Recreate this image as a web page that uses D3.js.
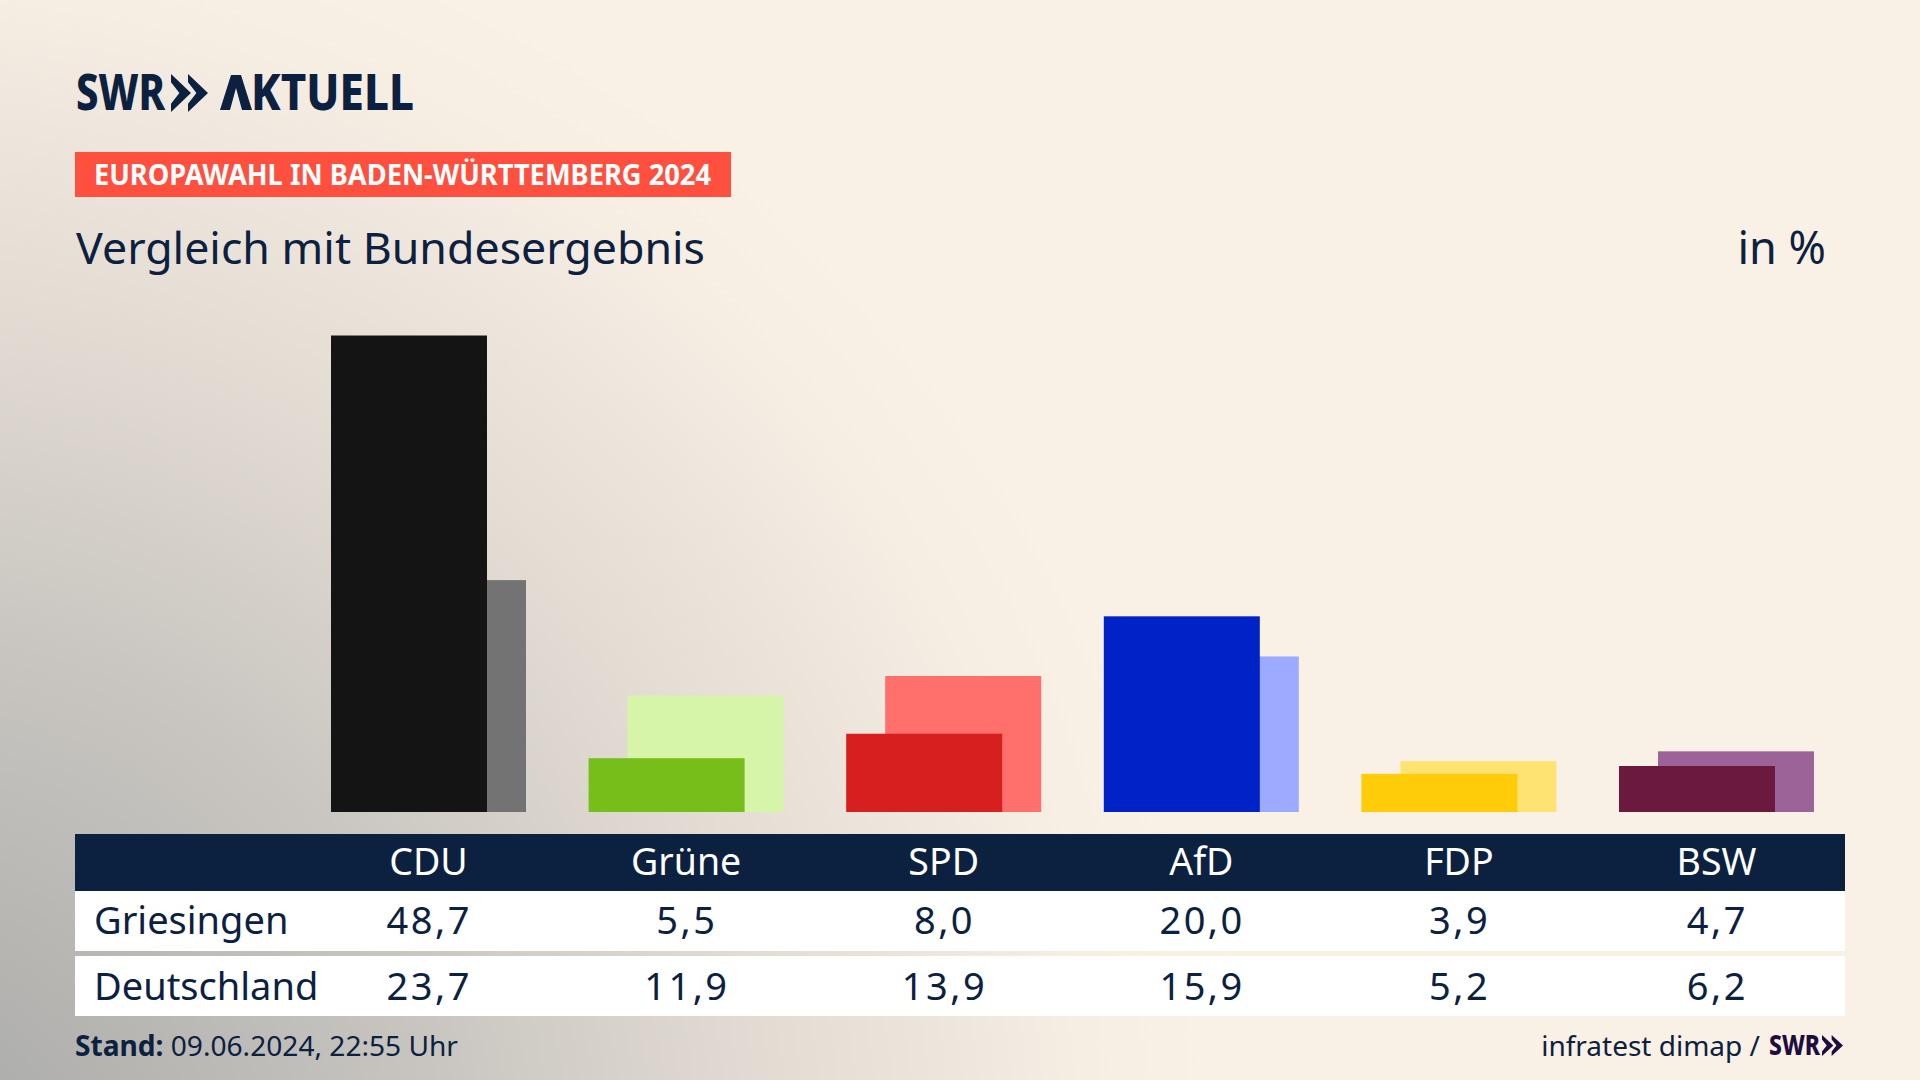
<!DOCTYPE html>
<html>
<head>
<meta charset="utf-8">
<script src="https://cdn.jsdelivr.net/npm/d3@7"></script>
<style>
  html, body { margin: 0; padding: 0; background: #faf1e6; }
  svg { display: block; }
  text { font-family: "Noto Sans", sans-serif; fill: #0c2140; }
</style>
</head>
<body>
<div id="chart"></div>
<script>
// Data
const parties = ["CDU", "Grüne", "SPD", "AfD", "FDP", "BSW"];
const griesingen = [48.7, 5.5, 8.0, 20.0, 3.9, 4.7];
const deutschland = [23.7, 11.9, 13.9, 15.9, 5.2, 6.2];
const rowLabels = ["Griesingen", "Deutschland"];
const darkColors = ["#141414", "#78be1a", "#d81f1f", "#0022c7", "#ffcc0a", "#6b1a3e"];
const lightColors = ["#737373", "#d6f5a8", "#ff6f6b", "#9caaff", "#ffe372", "#9b6398"];

const width = 1920;
const height = 1080;
const navy = "#0c2140";

const svg = d3.select("#chart").append("svg")
  .attr("width", width)
  .attr("height", height)
  .attr("viewBox", [0, 0, width, height]);

// Background: cream with a grey glow from the bottom left
const defs = svg.append("defs");
const glow = defs.append("radialGradient")
  .attr("id", "bg")
  .attr("gradientUnits", "userSpaceOnUse")
  .attr("cx", -100).attr("cy", 1180).attr("r", 1320);
glow.append("stop").attr("offset", 0.1).attr("stop-color", "#aeaeac");
glow.append("stop").attr("offset", 0.42).attr("stop-color", "#c9c6c1");
glow.append("stop").attr("offset", 0.68).attr("stop-color", "#e4ddd4");
glow.append("stop").attr("offset", 0.9).attr("stop-color", "#f6ede3");
glow.append("stop").attr("offset", 1).attr("stop-color", "#faf1e6");
svg.append("rect").attr("width", width).attr("height", height).attr("fill", "url(#bg)");

// Scales
const x = d3.scaleBand().domain(parties).range([299.7, 1845.3]);
const y = d3.scaleLinear().domain([0, 48.7]).range([812, 335.5]);
// two overlapping bars per party, the national one shifted to the right
const barWidth = 156;
const barShift = 39;
const center = (d) => x(d) + x.bandwidth() / 2;
const pairLeft = (d) => center(d) - (barWidth + barShift) / 2;

// Logo
const chevrons = (g, x0, y0, w, h) => {
  const cw = w * 0.54;
  [0, w - cw].forEach((dx) => {
    g.append("path")
      .attr("d", d3.line()([
        [x0 + dx, y0],
        [x0 + dx + cw, y0 + h / 2],
        [x0 + dx, y0 + h],
        [x0 + dx, y0 + h * 0.78],
        [x0 + dx + cw * 0.42, y0 + h / 2],
        [x0 + dx, y0 + h * 0.22],
      ]) + "Z")
      .attr("fill", g.attr("fill"));
  });
};

const logo = svg.append("g").attr("fill", navy);
logo.append("text")
  .attr("x", 76).attr("y", 110)
  .attr("textLength", 89).attr("lengthAdjust", "spacingAndGlyphs")
  .style("font-size", "49px").style("font-weight", 800)
  .text("SWR");
chevrons(logo, 171, 74, 37, 38);
const wordmark = logo.append("text")
  .attr("x", 220).attr("y", 110)
  .attr("textLength", 194).attr("lengthAdjust", "spacingAndGlyphs")
  .style("font-size", "49px").style("font-weight", 800);
// the logo's A has no crossbar, so the glyph is kept as text and painted as a peak
wordmark.append("tspan").style("fill", "none").text("A");
wordmark.append("tspan").text("KTUELL");
logo.append("path")
  .attr("d", d3.line()([[220, 110], [231, 75], [241, 75], [252, 110], [242, 110], [236, 88], [230, 110]]) + "Z");

// Red banner
svg.append("rect")
  .attr("x", 75).attr("y", 152).attr("width", 656).attr("height", 45)
  .attr("fill", "#ff4f3e");
svg.append("text")
  .attr("x", 94).attr("y", 185)
  .attr("textLength", 617).attr("lengthAdjust", "spacingAndGlyphs")
  .style("font-size", "28px").style("font-weight", 700).style("fill", "#fff")
  .text("EUROPAWAHL IN BADEN-WÜRTTEMBERG 2024");

// Titles
svg.append("text")
  .attr("x", 76).attr("y", 264)
  .attr("textLength", 629).attr("lengthAdjust", "spacingAndGlyphs")
  .style("font-size", "43px")
  .text("Vergleich mit Bundesergebnis");
svg.append("text")
  .attr("x", 1826).attr("y", 264)
  .attr("text-anchor", "end")
  .style("font-size", "45px")
  .text("in %");

// Bars: national result behind, local result in front
svg.append("g").selectAll("rect")
  .data(parties)
  .join("rect")
  .attr("x", (d) => pairLeft(d) + barShift)
  .attr("y", (d, i) => y(deutschland[i]))
  .attr("width", barWidth)
  .attr("height", (d, i) => y(0) - y(deutschland[i]))
  .attr("fill", (d, i) => lightColors[i]);

svg.append("g").selectAll("rect")
  .data(parties)
  .join("rect")
  .attr("x", (d) => pairLeft(d))
  .attr("y", (d, i) => y(griesingen[i]))
  .attr("width", barWidth)
  .attr("height", (d, i) => y(0) - y(griesingen[i]))
  .attr("fill", (d, i) => darkColors[i]);

// Table
const fmt = (v) => v.toFixed(1).replace(".", ",");
const table = svg.append("g");
table.append("rect").attr("x", 75).attr("y", 834).attr("width", 1770).attr("height", 57).attr("fill", navy);
table.append("rect").attr("x", 75).attr("y", 891).attr("width", 1770).attr("height", 60).attr("fill", "#fff");
table.append("rect").attr("x", 75).attr("y", 956).attr("width", 1770).attr("height", 60).attr("fill", "#fff");

table.selectAll("text.head")
  .data(parties)
  .join("text")
  .attr("class", "head")
  .attr("x", center)
  .attr("y", 875)
  .attr("text-anchor", "middle")
  .style("font-size", "37.5px")
  .style("fill", "#fff")
  .text((d) => d);

[griesingen, deutschland].forEach((values, r) => {
  const baseline = [934, 1000][r];
  table.append("text")
    .attr("x", 94).attr("y", baseline)
    .style("font-size", "38px")
    .text(rowLabels[r]);
  table.selectAll("text.row" + r)
    .data(values)
    .join("text")
    .attr("class", "row" + r)
    .attr("x", (d, i) => center(parties[i]) + 0.8)
    .attr("y", baseline)
    .attr("text-anchor", "middle")
    .style("font-size", "38px")
    .style("letter-spacing", "2.5px")
    .text(fmt);
});

// Footer
const stand = svg.append("text")
  .attr("x", 75).attr("y", 1056)
  .attr("textLength", 383).attr("lengthAdjust", "spacingAndGlyphs")
  .style("font-size", "28px");
stand.append("tspan").style("font-weight", 700).text("Stand: ");
stand.append("tspan").text("09.06.2024, 22:55 Uhr");

svg.append("text")
  .attr("x", 1760).attr("y", 1056)
  .attr("text-anchor", "end")
  .style("font-size", "28px")
  .text("infratest dimap /");

const footLogo = svg.append("g").attr("fill", "#1f0d40");
footLogo.append("text")
  .attr("x", 1769).attr("y", 1055)
  .attr("textLength", 51).attr("lengthAdjust", "spacingAndGlyphs")
  .style("font-size", "28px").style("font-weight", 800).style("fill", "#1f0d40")
  .text("SWR");
chevrons(footLogo, 1822, 1035, 21, 21);
</script>
</body>
</html>
